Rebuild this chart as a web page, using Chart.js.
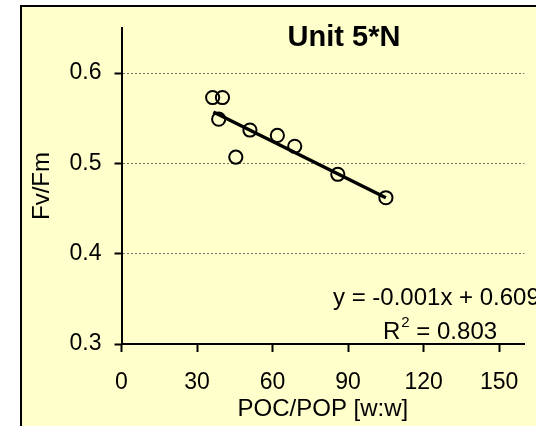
<!DOCTYPE html>
<html>
<head>
<meta charset="utf-8">
<script src="https://cdn.jsdelivr.net/npm/chart.js@4/dist/chart.umd.min.js"></script>
<style>
  html, body { margin: 0; padding: 0; background: #fff; }
  #frame {
    position: absolute; left: 20px; top: 5px; width: 516px; height: 421px;
    box-sizing: border-box; background: #ffffcc;
    border-left: 2px solid #000; border-top: 2px solid #000;
  }
  #chart { position: absolute; left: 0; top: 0; }
</style>
</head>
<body>
<div id="frame"></div>
<canvas id="chart" width="536" height="426"></canvas>
<script>
// Fv/Fm against POC/POP for Unit 5*N, with linear trendline.

const pocPop = [36.2, 40.1, 38.6, 45.4, 51.0, 61.9, 68.8, 85.9, 105.0];
const fvFm = [0.573, 0.573, 0.549, 0.507, 0.537, 0.531, 0.519, 0.488, 0.462];

// trendline end points
const trendX = [36.5, 105.0];
const trendY = [0.557, 0.462];

const xTicks = [0, 30, 60, 90, 120, 150];
const yTicks = [0.3, 0.4, 0.5, 0.6];

const chartTitle = "Unit 5*N";
const eqText = "y = -0.001x + 0.609";
const r2Text = ["R", "2", " = 0.803"];

const FONT = "'Liberation Sans', Arial, sans-serif";

function toPoints(xs, ys) {
  return xs.map((x, i) => ({ x: x, y: ys[i] }));
}

// title + trendline equation, drawn as canvas text
const labelsPlugin = {
  id: "labels",
  afterDatasetsDraw(chart) {
    const ctx = chart.ctx;
    ctx.save();
    ctx.fillStyle = "#000";
    ctx.textBaseline = "middle";
    ctx.font = "bold 29px " + FONT;
    ctx.textAlign = "center";
    ctx.fillText(chartTitle, 344, 38);

    ctx.font = "24px " + FONT;
    ctx.textAlign = "left";
    ctx.fillText(eqText, 333, 298);

    // R² with a real superscript
    let x = 383;
    ctx.fillText(r2Text[0], x, 332);
    x += ctx.measureText(r2Text[0]).width;
    ctx.font = "15px " + FONT;
    ctx.fillText(r2Text[1], x + 1, 323);
    x += ctx.measureText(r2Text[1]).width + 1;
    ctx.font = "24px " + FONT;
    ctx.fillText(r2Text[2], x, 332);
    ctx.restore();
  },
};

new Chart(document.getElementById("chart"), {
  type: "scatter",
  data: {
    datasets: [
      {
        type: "line",
        data: toPoints(trendX, trendY),
        borderColor: "#000",
        borderWidth: 3.5,
        pointRadius: 0,
        fill: false,
      },
      {
        data: toPoints(pocPop, fvFm),
        pointStyle: "circle",
        pointRadius: 6.6,
        pointBorderWidth: 2,
        borderColor: "#000",
        backgroundColor: "rgba(0,0,0,0)",
      },
    ],
  },
  options: {
    responsive: false,
    animation: false,
    devicePixelRatio: 1,
    layout: { padding: { left: 0, top: 28, right: 10, bottom: 0 } },
    plugins: {
      legend: { display: false },
      tooltip: { enabled: false },
    },
    scales: {
      x: {
        type: "linear",
        min: 0,
        max: 160,
        afterBuildTicks: (s) => { s.ticks = xTicks.map((v) => ({ value: v })); },
        afterFit: (s) => { s.height = 82; },
        ticks: {
          color: "#000",
          font: { family: FONT, size: 23 },
          padding: 17,
          maxRotation: 0,
        },
        grid: {
          drawOnChartArea: false,
          drawTicks: true,
          tickLength: 8,
          tickColor: "#000",
          tickWidth: 2,
        },
        border: { display: true, color: "#000", width: 2 },
        title: {
          display: true,
          text: "POC/POP [w:w]",
          color: "#000",
          font: { family: FONT, size: 24 },
          padding: { top: 0, bottom: 2 },
        },
      },
      y: {
        type: "linear",
        min: 0.3,
        max: 0.65,
        afterBuildTicks: (s) => { s.ticks = yTicks.map((v) => ({ value: v })); },
        afterFit: (s) => { s.width = 121.5; },
        ticks: {
          color: "#000",
          font: { family: FONT, size: 23 },
          padding: 13,
          callback: (v) => v.toFixed(1),
        },
        grid: {
          drawTicks: true,
          tickLength: 7,
          tickColor: "#000",
          tickWidth: 2,
          tickBorderDash: [],
          color: "#707070",
          lineWidth: 1,
        },
        border: { display: true, color: "#000", width: 2, dash: [2, 2] },
        title: {
          display: true,
          text: "Fv/Fm",
          color: "#000",
          font: { family: FONT, size: 24 },
          padding: { top: 28, bottom: 0 },
        },
      },
    },
  },
  plugins: [labelsPlugin],
});
</script>
</body>
</html>
